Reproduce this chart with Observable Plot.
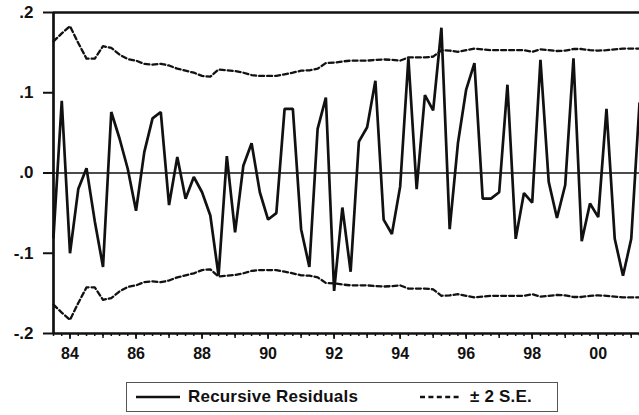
<!DOCTYPE html>
<html>
<head>
<meta charset="utf-8">
<script src="https://cdn.jsdelivr.net/npm/d3@7"></script>
<script src="https://cdn.jsdelivr.net/npm/@observablehq/plot@0.6"></script>
<style>
  html, body { margin: 0; padding: 0; background: #fff; }
  #wrap { position: relative; width: 639px; height: 415px; overflow: hidden; font-family: "Liberation Sans", Arial, sans-serif; }
  #legend { position: absolute; left: 126px; top: 382px; width: 430px; height: 28px; border: 1.5px solid #555; box-sizing: content-box; }
  #legend .item { position: absolute; top: 0; height: 28px; display: flex; align-items: center; font-weight: bold; font-size: 17px; letter-spacing: 0.2px; color: #111; white-space: nowrap; }
  #legend svg { display: block; margin-right: 8px; }
</style>
</head>
<body>
<div id="wrap">
  <div id="chart"></div>
  <div id="legend">
    <div class="item" style="left:9px"><svg width="44" height="6"><line x1="0" y1="3" x2="44" y2="3" stroke="#111" stroke-width="2.5"/></svg>Recursive Residuals</div>
    <div class="item" style="left:293px"><svg width="42" height="6"><line x1="0" y1="3" x2="42" y2="3" stroke="#111" stroke-width="2.3" stroke-dasharray="5,3.4"/></svg>± 2 S.E.</div>
  </div>
</div>
<script>
// Quarterly sample: 1983Q3 .. 2001Q2 (72 observations)
const startYear = 1983.5;
const residuals = [
  -0.080, 0.090, -0.100, -0.020, 0.006, -0.060, -0.117, 0.076, 0.043, 0.005,
  -0.047, 0.026, 0.068, 0.076, -0.040, 0.020, -0.032, -0.005, -0.024, -0.053,
  -0.128, 0.021, -0.074, 0.009, 0.037, -0.024, -0.058, -0.050, 0.080, 0.080,
  -0.070, -0.117, 0.055, 0.094, -0.147, -0.043, -0.123, 0.039, 0.057, 0.115,
  -0.058, -0.076, -0.017, 0.143, -0.020, 0.097, 0.078, 0.181, -0.070, 0.037,
  0.104, 0.137, -0.032, -0.032, -0.024, 0.110, -0.082, -0.025, -0.037, 0.141,
  -0.011, -0.056, -0.015, 0.143, -0.085, -0.038, -0.055, 0.080, -0.082, -0.128,
  -0.082, 0.087
];
const twoSE = [
  0.164, 0.174, 0.183, 0.162, 0.1425, 0.1425, 0.158, 0.156, 0.1475, 0.142,
  0.140, 0.136, 0.135, 0.136, 0.134, 0.130, 0.1275, 0.125, 0.121, 0.120,
  0.129, 0.128, 0.127, 0.125, 0.122, 0.121, 0.121, 0.121, 0.123, 0.125,
  0.1275, 0.128, 0.130, 0.137, 0.1375, 0.139, 0.140, 0.140, 0.140, 0.141,
  0.1415, 0.141, 0.140, 0.144, 0.144, 0.144, 0.145, 0.153, 0.1525, 0.151,
  0.153, 0.155, 0.154, 0.153, 0.153, 0.153, 0.153, 0.153, 0.151, 0.154,
  0.153, 0.152, 0.1525, 0.1545, 0.1545, 0.153, 0.1525, 0.153, 0.154, 0.155,
  0.155, 0.155
];
const yearTicks = [1984, 1986, 1988, 1990, 1992, 1994, 1996, 1998, 2000];
const yearLabels = ["84", "86", "88", "90", "92", "94", "96", "98", "00"];
const yTicks = [-0.2, -0.1, 0, 0.1, 0.2];
const yLabels = ["-.2", "-.1", ".0", ".1", ".2"];

const t = (i) => startYear + i / 4;
const resid = residuals.map((v, i) => ({t: t(i), v}));
const upper = twoSE.map((v, i) => ({t: t(i), v}));
const lower = twoSE.map((v, i) => ({t: t(i), v: -v}));
const quarterTicks = d3.range(residuals.length).map(t);
const allYears = d3.range(1984, 2002);
const endT = t(residuals.length - 1);

const ink = "#111";
const chart = Plot.plot({
  width: 639,
  height: 370,
  marginLeft: 53,
  marginRight: 0,
  marginTop: 12,
  marginBottom: 37,
  style: {fontFamily: "'Liberation Sans', Arial, sans-serif", background: "#fff", color: ink},
  x: {domain: [startYear, endT], label: null},
  y: {domain: [-0.2, 0.2], label: null},
  marks: [
    Plot.ruleY([0], {stroke: ink, strokeWidth: 1.7}),
    Plot.line(upper, {x: "t", y: "v", stroke: ink, strokeWidth: 2.3, strokeDasharray: "5,3"}),
    Plot.line(lower, {x: "t", y: "v", stroke: ink, strokeWidth: 2.3, strokeDasharray: "5,3"}),
    Plot.line(resid, {x: "t", y: "v", stroke: ink, strokeWidth: 2.7, strokeLinejoin: "miter"}),
    Plot.axisX({ticks: quarterTicks, tickSize: 3, text: null, label: null, stroke: ink, strokeWidth: 1.5}),
    Plot.axisX({ticks: allYears, tickSize: 5, text: null, label: null, stroke: ink, strokeWidth: 1.5}),
    Plot.axisX({ticks: yearTicks, tickSize: 6, tickPadding: 8, stroke: ink, strokeWidth: 1.5,
      tickFormat: (d) => yearLabels[yearTicks.indexOf(d)], fontSize: 16, fontWeight: "bold", fill: ink, label: null}),
    Plot.axisY({ticks: yTicks, tickSize: 10, tickPadding: 10, stroke: ink, strokeWidth: 2,
      tickFormat: (d) => yLabels[yTicks.indexOf(d)], fontSize: 17, fontWeight: "bold", fill: ink, label: null}),
    Plot.ruleY([0.2], {stroke: ink, strokeWidth: 2.7}),
    Plot.ruleY([-0.2], {stroke: ink, strokeWidth: 2.7}),
    Plot.ruleX([startYear], {stroke: ink, strokeWidth: 2.7})
  ]
});
document.getElementById("chart").appendChild(chart);
</script>
</body>
</html>
